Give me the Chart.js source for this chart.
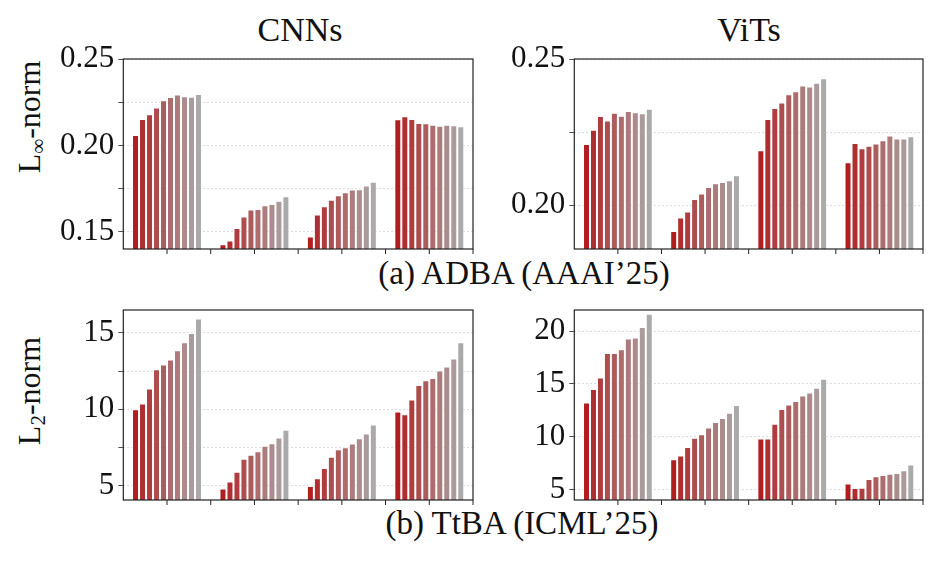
<!DOCTYPE html>
<html>
<head>
<meta charset="utf-8">
<script src="https://cdn.jsdelivr.net/npm/chart.js@4.4.1/dist/chart.umd.min.js"></script>
<style>
    body { margin: 0; background: #fff; width: 937px; height: 561px; position: relative; overflow: hidden;
           font-family: "Liberation Serif", "DejaVu Serif", serif; color: #111; }
    .box { position: absolute; }
    .txt { position: absolute; white-space: nowrap; transform: translate(-50%, -50%); }
    .ylab { position: absolute; white-space: nowrap; transform: translate(-50%, -50%) rotate(-90deg); font-size: 32px; }
    .ylab sub { font-size: 21px; vertical-align: -5px; }
</style>
</head>
<body>
<div class="txt" style="left:300px;top:30px;font-size:34px;">CNNs</div>
<div class="txt" style="left:749px;top:30px;font-size:34px;">ViTs</div>
<div class="ylab" style="left:31px;top:117px;">L<sub>∞</sub>-norm</div>
<div class="ylab" style="left:31px;top:391px;">L<sub>2</sub>-norm</div>
<div class="txt" style="left:524px;top:273px;font-size:33px;">(a) ADBA (AAAI’25)</div>
<div class="txt" style="left:522px;top:523px;font-size:33px;">(b) TtBA (ICML’25)</div>

<div class="box" style="left:0px;top:37px;width:478px;height:222px;"><canvas id="c1"></canvas></div>
<div class="box" style="left:460px;top:37px;width:468px;height:222px;"><canvas id="c2"></canvas></div>
<div class="box" style="left:0px;top:288px;width:478px;height:222px;"><canvas id="c3"></canvas></div>
<div class="box" style="left:460px;top:288px;width:468px;height:222px;"><canvas id="c4"></canvas></div>

<script>
// 4 groups per panel, 10 bars per group (one series per bar position)
const groups = ['G1', 'G2', 'G3', 'G4'];

// (a) ADBA, L_inf, CNNs  -- rows = groups
const linfCnn = [
    [0.2060, 0.2153, 0.2180, 0.2219, 0.2261, 0.2280, 0.2294, 0.2284, 0.2282, 0.2298],
    [0.1428, 0.1449, 0.1521, 0.1588, 0.1629, 0.1631, 0.1654, 0.1661, 0.1679, 0.1706],
    [0.1472, 0.1600, 0.1648, 0.1685, 0.1711, 0.1729, 0.1744, 0.1746, 0.1767, 0.1789],
    [0.2151, 0.2168, 0.2153, 0.2130, 0.2128, 0.2120, 0.2114, 0.2120, 0.2116, 0.2111]
];
// (a) ADBA, L_inf, ViTs
const linfVit = [
    [0.2209, 0.2258, 0.2305, 0.2290, 0.2316, 0.2306, 0.2322, 0.2318, 0.2314, 0.2330],
    [0.1912, 0.1958, 0.1978, 0.2021, 0.2040, 0.2062, 0.2075, 0.2079, 0.2085, 0.2102],
    [0.2188, 0.2295, 0.2332, 0.2351, 0.2379, 0.2390, 0.2409, 0.2406, 0.2419, 0.2434],
    [0.2147, 0.2213, 0.2195, 0.2203, 0.2211, 0.2222, 0.2238, 0.2228, 0.2228, 0.2236]
];
// (b) TtBA, L2, CNNs
const l2Cnn = [
    [10.00, 10.37, 11.35, 12.62, 12.93, 13.25, 13.86, 14.39, 15.00, 15.94],
    [4.80, 5.26, 5.90, 6.75, 7.01, 7.25, 7.60, 7.77, 8.14, 8.65],
    [4.96, 5.48, 6.14, 6.88, 7.38, 7.51, 7.75, 8.10, 8.41, 9.00],
    [9.85, 9.67, 10.63, 11.59, 11.90, 12.05, 12.53, 12.79, 13.32, 14.39]
];
// (b) TtBA, L2, ViTs
const l2Vit = [
    [13.24, 14.51, 15.61, 17.92, 17.92, 18.29, 19.31, 19.40, 20.38, 21.64],
    [7.87, 8.22, 9.01, 9.90, 10.24, 10.87, 11.38, 11.76, 12.26, 12.99],
    [9.83, 9.83, 11.22, 12.61, 13.05, 13.37, 13.91, 14.19, 14.63, 15.48],
    [5.57, 5.13, 5.16, 5.98, 6.26, 6.36, 6.49, 6.55, 6.83, 7.37]
];

// y axis ranges
const linfCnnRange = [0.14, 0.25];
const linfVitRange = [0.185, 0.25];
const l2CnnRange = [4.05, 16.5];
const l2VitRange = [4.0, 22.0];

// bar colours: firebrick -> grey
const c0 = [176, 30, 32], c1 = [170, 170, 170];
function barColor(i) {
    const t = i / 9;
    const c = c0.map((v, k) => Math.round(v + (c1[k] - v) * t));
    return 'rgb(' + c.join(',') + ')';
}

const frame = {
    id: 'frame',
    afterDraw(chart) {
        const ctx = chart.ctx, a = chart.chartArea, xs = chart.scales.x;
        ctx.save();
        ctx.strokeStyle = '#222';
        ctx.lineWidth = 1.2;
        ctx.strokeRect(a.left, a.top, a.right - a.left, a.bottom - a.top);
        // x tick marks: group centres and group boundaries
        ctx.lineWidth = 1;
        const step = (xs.getPixelForValue(1) - xs.getPixelForValue(0));
        for (let i = 0; i < groups.length; i++) {
            const cx = xs.getPixelForValue(i);
            [cx, cx + step / 2].forEach(px => {
                ctx.beginPath();
                ctx.moveTo(px, a.bottom);
                ctx.lineTo(px, a.bottom + 5);
                ctx.stroke();
            });
        }
        ctx.restore();
    }
};

function makeChart(id, rows, range, step, major, decimals, yWidth) {
    const datasets = [];
    for (let j = 0; j < 10; j++) {
        datasets.push({
            data: rows.map(r => r[j]),
            backgroundColor: barColor(j),
            borderColor: 'rgba(255,255,255,0.75)',
            borderWidth: 1,
            borderSkipped: 'bottom',
            categoryPercentage: 0.8,
            barPercentage: 1.0
        });
    }
    return new Chart(document.getElementById(id), {
        type: 'bar',
        data: { labels: groups, datasets: datasets },
        plugins: [frame],
        options: {
            responsive: true,
            maintainAspectRatio: false,
            animation: false,
            layout: { autoPadding: false, padding: { top: 22, right: 5, left: 0, bottom: 0 } },
            plugins: { legend: { display: false }, tooltip: { enabled: false } },
            scales: {
                x: {
                    ticks: { display: false },
                    grid: { display: false },
                    border: { display: false },
                    afterFit: s => { s.height = 10; }
                },
                y: {
                    min: range[0],
                    max: range[1],
                    ticks: {
                        stepSize: step,
                        includeBounds: false,
                        color: '#111',
                        padding: 4,
                        font: { family: 'Liberation Serif', size: 31 },
                        callback: v => {
                            const q = v / major;
                            return Math.abs(q - Math.round(q)) < 1e-6 ? v.toFixed(decimals) : '';
                        }
                    },
                    grid: {
                        color: '#d4d4d4',
                        lineWidth: 0.8,
                        tickColor: '#222',
                        tickLength: 5
                    },
                    border: { display: false, dash: [2, 2] },
                    afterFit: s => {
                        s.width = yWidth;
                        s.paddingTop = 0;
                        s.paddingBottom = 0;
                    }
                }
            }
        }
    });
}

makeChart('c1', linfCnn, linfCnnRange, 0.025, 0.05, 2, 123.3);
makeChart('c2', linfVit, linfVitRange, 0.025, 0.05, 2, 114.3);
makeChart('c3', l2Cnn, l2CnnRange, 2.5, 5, 0, 123.3);
makeChart('c4', l2Vit, l2VitRange, 2.5, 5, 0, 114.3);
</script>
</body>
</html>
